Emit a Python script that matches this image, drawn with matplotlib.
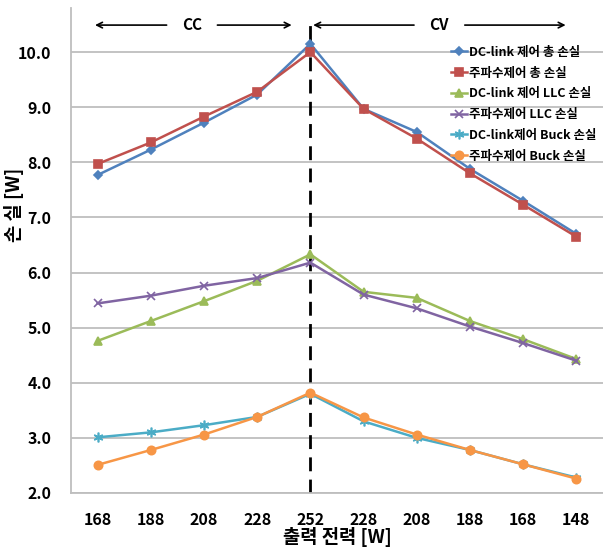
import matplotlib.pyplot as plt

plt.rcParams['font.family'] = ['Noto Sans CJK KR', 'DejaVu Sans']

# 출력 전력 (CC 구간 -> CV 구간)
power_labels = ['168', '188', '208', '228', '252', '228', '208', '188', '168', '148']

dc_total = [7.77, 8.23, 8.72, 9.23, 10.15, 8.97, 8.55, 7.88, 7.30, 6.70]
freq_total = [7.97, 8.36, 8.83, 9.28, 10.00, 8.97, 8.43, 7.80, 7.23, 6.65]
dc_llc = [4.76, 5.12, 5.48, 5.85, 6.33, 5.65, 5.54, 5.12, 4.79, 4.43]
freq_llc = [5.44, 5.58, 5.76, 5.90, 6.18, 5.60, 5.35, 5.02, 4.72, 4.40]
dc_buck = [3.01, 3.10, 3.23, 3.38, 3.80, 3.30, 3.00, 2.78, 2.52, 2.28]
freq_buck = [2.51, 2.78, 3.06, 3.38, 3.82, 3.37, 3.06, 2.78, 2.52, 2.26]

series = [
    (dc_total, 'DC-link 제어 총 손실', '#4F81BD', 'D', 4),
    (freq_total, '주파수제어 총 손실', '#C0504D', 's', 6),
    (dc_llc, 'DC-link 제어 LLC 손실', '#9BBB59', '^', 6),
    (freq_llc, '주파수제어 LLC 손실', '#8064A2', 'x', 6),
    (dc_buck, 'DC-link제어 Buck 손실', '#4BACC6', (6, 2, 0), 7),
    (freq_buck, '주파수제어 Buck 손실', '#F79646', 'o', 6),
]

fig = plt.figure(figsize=(6.03, 5.52), dpi=100)
ax = fig.add_axes([0.1177, 0.1069, 0.8823, 0.8786])

x = list(range(len(power_labels)))
for vals, label, color, marker, ms in series:
    ax.plot(x, vals, color=color, marker=marker, markersize=ms, linewidth=1.8,
            markeredgewidth=1.2, label=label)

ax.set_xlim(-0.5, len(power_labels) - 0.5)
ax.set_ylim(2.0, 10.8)
ax.set_yticks([2, 3, 4, 5, 6, 7, 8, 9, 10])
ax.set_yticklabels([f'{v:.1f}' for v in range(2, 11)])
ax.set_xticks(x)
ax.set_xticklabels(power_labels)
ax.grid(axis='y', color='#BEBEBE', linewidth=1.3)
ax.set_axisbelow(True)
for s in ['top', 'right']:
    ax.spines[s].set_visible(False)
for s in ['left', 'bottom']:
    ax.spines[s].set_color('#BEBEBE')
    ax.spines[s].set_linewidth(1.3)
ax.tick_params(axis='y', length=0, labelsize=11.5, pad=14)
ax.tick_params(axis='x', length=0, labelsize=11.5, pad=14)
for t in ax.get_xticklabels() + ax.get_yticklabels():
    t.set_fontweight('bold')

ax.set_ylabel('손 실 [W]', fontsize=13.5, fontweight='bold')
ax.yaxis.set_label_coords(-0.088, 0.594)
ax.set_xlabel('출력 전력 [W]', fontsize=13.5, fontweight='bold', labelpad=-1)

# CC / CV 경계
ax.plot([4, 4], [2.0, 10.22], color='black', linestyle=(0, (5, 3)), linewidth=2, zorder=1)
ax.plot([4, 4], [10.22, 10.46], color='black', linewidth=2, zorder=1)

arrow = dict(arrowstyle='->', color='black', linewidth=1.2)
y_arr = 10.49
ax.annotate('', xy=(-0.1, y_arr), xytext=(1.35, y_arr), arrowprops=arrow)
ax.annotate('', xy=(3.7, y_arr), xytext=(2.2, y_arr), arrowprops=arrow)
ax.text(1.77, y_arr, 'CC', ha='center', va='center', fontsize=11, fontweight='bold')
ax.annotate('', xy=(4.0, y_arr), xytext=(6.0, y_arr), arrowprops=arrow)
ax.annotate('', xy=(8.85, y_arr), xytext=(6.85, y_arr), arrowprops=arrow)
ax.text(6.42, y_arr, 'CV', ha='center', va='center', fontsize=11, fontweight='bold')

leg = ax.legend(loc='upper right', bbox_to_anchor=(1.0, 0.935), frameon=False,
                prop={'size': 9, 'weight': 'bold'},
                handlelength=1.3, handletextpad=0.2, labelspacing=0.62,
                borderaxespad=0.1)

fig.savefig('out.png', dpi=100)
